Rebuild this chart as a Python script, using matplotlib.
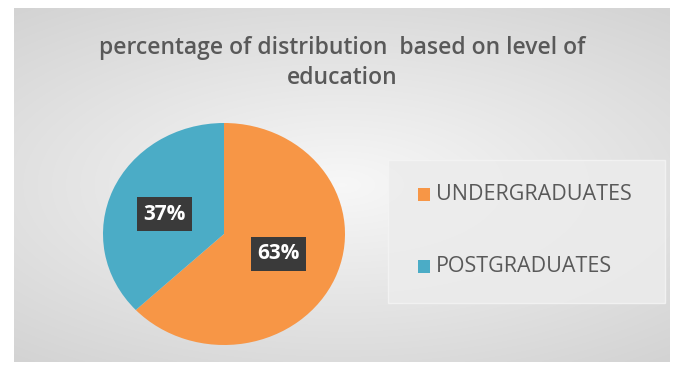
import matplotlib.pyplot as plt
import numpy as np
from matplotlib.patches import Rectangle

# data
categories = ['UNDERGRADUATES', 'POSTGRADUATES']
values = [63, 37]
colors = ['#F79646', '#4BACC6']
title = 'percentage of distribution  based on level of\neducation'

W, H = 684, 370
fig = plt.figure(figsize=(W / 100, H / 100), dpi=100)
fig.patch.set_facecolor('white')

# background panel with radial gradient
bg = fig.add_axes([14 / W, 8 / H, 656 / W, 354 / H])
yy, xx = np.mgrid[-1:1:200j, -1:1:400j]
r = np.sqrt((xx * 0.9) ** 2 + (yy * 1.1) ** 2)
g = 0.97 - 0.14 * np.clip(r, 0, 1.4) / 1.4
bg.imshow(np.dstack([g, g, g]), aspect='auto', extent=[0, 1, 0, 1], interpolation='bilinear')
bg.set_xlim(0, 1)
bg.set_ylim(0, 1)
bg.axis('off')

# legend panel
bg.add_patch(Rectangle(((388 - 14) / 656, (370 - 303 - 8) / 354), 277 / 656, 143 / 354,
                       facecolor='#ececec', edgecolor='#f4f4f4', lw=1, alpha=0.85))

fig.text(342 / W, 1 - 63 / H, title, ha='center', va='center', fontsize=16.5,
         fontweight='semibold', color='#595959', family='Open Sans', linespacing=1.3)

# pie (slightly stretched horizontally like the source)
cx, cy, rx, ry = 224, 234, 121, 111
ax = fig.add_axes([(cx - rx) / W, 1 - (cy + ry) / H, 2 * rx / W, 2 * ry / H])
wedges, _ = ax.pie(values, colors=colors, startangle=90, counterclock=False,
                   wedgeprops=dict(linewidth=0))
ax.set_aspect('auto')
ax.set_xlim(-1, 1)
ax.set_ylim(-1, 1)

label_pos = [(0.45, -0.18), (-0.49, 0.18)]
for v, (lx, ly) in zip(values, label_pos):
    ax.text(lx, ly, f'{v}%', ha='center', va='center', fontsize=15, fontweight='bold',
            color='white', family='Open Sans',
            bbox=dict(boxstyle='square,pad=0.3', facecolor='#3a3a3a', edgecolor='none'))

# legend entries
leg_y = [195, 267]
for c, name, y in zip(colors, categories, leg_y):
    fig.patches.append(Rectangle((418 / W, 1 - (y + 6) / H), 12 / W, 13 / H,
                                 facecolor=c, edgecolor='none', transform=fig.transFigure))
    fig.text(436 / W, 1 - y / H, name, ha='left', va='center', fontsize=15.5,
             color='#595959', family='Open Sans')

fig.savefig('out.png', dpi=100)
